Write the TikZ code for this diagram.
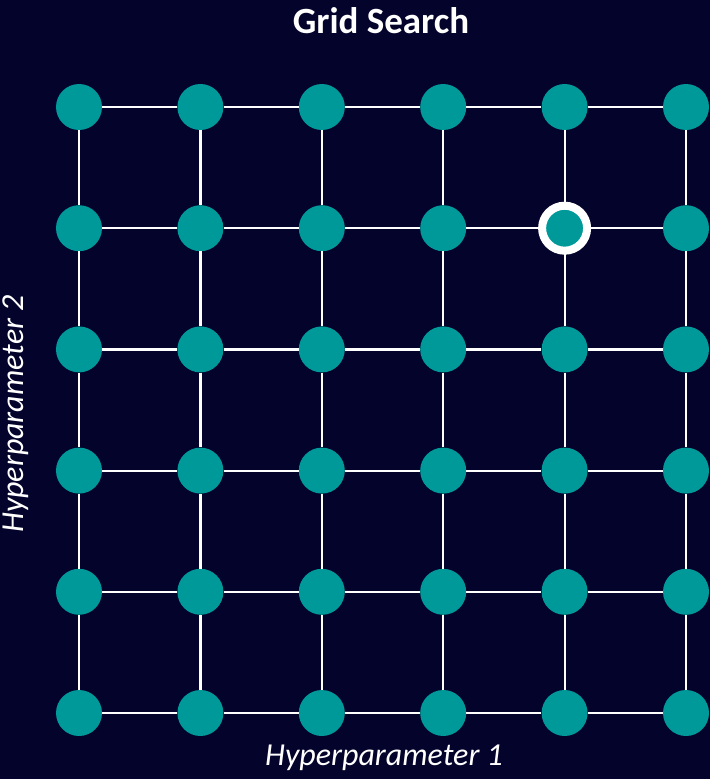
\documentclass[tikz,border=0pt]{standalone}
\usepackage{fontspec}
\setmainfont{Carlito}
\usetikzlibrary{positioning}
\definecolor{bgnavy}{HTML}{03032B}
\definecolor{dotteal}{HTML}{009999}

\begin{document}
\begin{tikzpicture}[x=1pt,y=-1pt,
    dot/.style={circle,fill=dotteal,minimum size=46pt,inner sep=0pt},
    pick/.style={dot,minimum size=45pt,draw=white,line width=8pt},
    grid line/.style={white,line width=2.2pt},
    axis label/.style={text=white,font=\itshape\fontsize{32}{38}\selectfont}]
    \fill[bgnavy] (0,0) rectangle (710,779);
    \useasboundingbox (0,0) rectangle (710,779);

    % the 6x6 grid of points
    \foreach \i in {0,...,5}
        \foreach \j in {0,...,5}
            \node[dot] (d\i\j) at ({79+121.4*\i},{107+121.2*\j}) {};

    \foreach \i [evaluate=\i as \k using int(\i+1)] in {0,...,4}
        \foreach \j in {0,...,5} {
            \draw[grid line] (d\i\j) -- (d\k\j);
            \draw[grid line] (d\j\i) -- (d\j\k);
        }

    % best point
    \node[pick] (best) at (d41) {};

    \node[text=white,font=\bfseries\fontsize{37}{44}\selectfont] (title) at (381,21) {Grid Search};
    \node[axis label] (xlabel) at (384,758) {Hyperparameter 1};
    \node[axis label,rotate=90] (ylabel) at (16,414) {Hyperparameter 2};
\end{tikzpicture}
\end{document}
